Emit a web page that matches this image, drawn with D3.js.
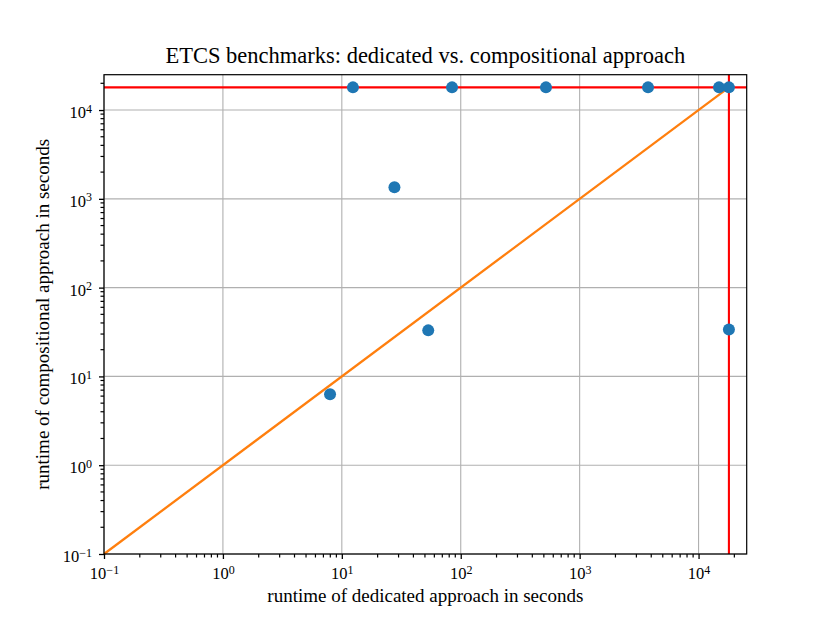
<!DOCTYPE html>
<html>
<head>
  <style>
    body { margin: 0; background: #fff; }
    svg { font-family: "Liberation Serif", "DejaVu Serif", serif; }
    .grid line { stroke: #b0b0b0; stroke-width: 1.1px; }
    .axis path { display: none; }
    .axis line { stroke: #000; stroke-width: 1.3px; }
  </style>
</head>
<body>
  <svg id="chart" width="830" height="623"></svg>
  <script src="https://d3js.org/d3.v7.min.js"></script>
  <script>
    // runtimes in seconds, one entry per benchmark
    const dedicated     = [7.96, 12.4, 27.7, 53.3, 84.5, 521, 3760, 14860, 18000, 18000];
    const compositional = [6.29, 18000, 1348, 33.0, 18000, 18000, 18000, 18000, 18000, 33.8];
    const timeout = 18000;
    const xTicks = [1e-1, 1e0, 1e1, 1e2, 1e3, 1e4];
    const yTicks = [1e-1, 1e0, 1e1, 1e2, 1e3, 1e4];
    const xDomain = [0.1, 25400];
    const yDomain = [0.1, 25000];

    const margin = { top: 74.7, right: 83.3, bottom: 69, left: 104 };
    const W = 830, H = 623;
    const width = W - margin.left - margin.right;
    const height = H - margin.top - margin.bottom;

    const svg = d3.select("#chart");
    const g = svg.append("g").attr("transform", `translate(${margin.left},${margin.top})`);

    const x = d3.scaleLog().domain(xDomain).range([0, width]);
    const y = d3.scaleLog().domain(yDomain).range([height, 0]);

    // minor ticks: 2..9 of each decade inside the domain
    function minors(scale) {
      const [a, b] = scale.domain();
      const out = [];
      for (let e = Math.floor(Math.log10(a)); e <= Math.ceil(Math.log10(b)); e++) {
        for (let m = 2; m <= 9; m++) {
          const v = m * Math.pow(10, e);
          if (v >= a && v <= b) out.push(v);
        }
      }
      return out;
    }

    // grid
    g.append("g").attr("class", "grid")
      .selectAll("line").data(xTicks).join("line")
      .attr("x1", d => x(d)).attr("x2", d => x(d))
      .attr("y1", 0).attr("y2", height);
    g.append("g").attr("class", "grid")
      .selectAll("line").data(yTicks).join("line")
      .attr("y1", d => y(d)).attr("y2", d => y(d))
      .attr("x1", 0).attr("x2", width);

    // timeout lines
    g.append("line")
      .attr("x1", 0).attr("x2", width)
      .attr("y1", y(timeout)).attr("y2", y(timeout))
      .attr("stroke", "#ff0000").attr("stroke-width", 2.1);
    g.append("line")
      .attr("x1", x(timeout)).attr("x2", x(timeout))
      .attr("y1", 0).attr("y2", height)
      .attr("stroke", "#ff0000").attr("stroke-width", 2.1);

    // diagonal
    g.append("path")
      .datum([0.1, timeout])
      .attr("fill", "none")
      .attr("stroke", "#ff7f0e")
      .attr("stroke-width", 2.3)
      .attr("d", d3.line().x(d => x(d)).y(d => y(d)));

    // points
    g.selectAll(".dot")
      .data(dedicated.map((d, i) => [d, compositional[i]]))
      .join("circle")
      .attr("class", "dot")
      .attr("cx", d => x(d[0]))
      .attr("cy", d => y(d[1]))
      .attr("r", 6)
      .attr("fill", "#1f77b4");

    // axes
    function powLabel(sel) {
      sel.selectAll(".tick text").each(function (d) {
        const t = d3.select(this);
        const e = Math.round(Math.log10(d));
        t.text(null)
          .attr("font-size", 16.5)
          .attr("font-family", "Liberation Serif, DejaVu Serif, serif")
          .attr("fill", "#000");
        t.append("tspan").text("10");
        t.append("tspan")
          .attr("dy", "-0.45em")
          .attr("font-size", 12)
          .text(e < 0 ? "\u2212" + (-e) : e);
      });
    }

    const xAxis = g.append("g").attr("class", "axis")
      .attr("transform", `translate(0,${height})`)
      .call(d3.axisBottom(x).tickValues(xTicks).tickSize(5).tickPadding(6));
    xAxis.call(powLabel);
    xAxis.selectAll(".tick text").attr("y", 25).attr("dy", 0);

    const yAxis = g.append("g").attr("class", "axis")
      .call(d3.axisLeft(y).tickValues(yTicks).tickSize(5).tickPadding(7));
    yAxis.call(powLabel);
    yAxis.selectAll(".tick text").attr("dy", "0.45em");

    // minor ticks
    const minorG = g.append("g")
      .attr("stroke", "#000")
      .attr("stroke-width", 1.2);
    minorG.selectAll(".mx").data(minors(x)).join("line")
      .attr("class", "mx")
      .attr("x1", d => x(d)).attr("x2", d => x(d))
      .attr("y1", height).attr("y2", height + 3.5);
    minorG.selectAll(".my").data(minors(y)).join("line")
      .attr("class", "my")
      .attr("y1", d => y(d)).attr("y2", d => y(d))
      .attr("x1", 0).attr("x2", -3.5);

    // frame
    g.append("rect")
      .attr("width", width).attr("height", height)
      .attr("fill", "none").attr("stroke", "#000").attr("stroke-width", 1.2);

    // titles
    svg.append("text")
      .attr("x", margin.left + width / 2).attr("y", 63)
      .attr("text-anchor", "middle")
      .attr("font-size", 22.5)
      .text("ETCS benchmarks: dedicated vs. compositional approach");

    svg.append("text")
      .attr("x", margin.left + width / 2).attr("y", 602)
      .attr("text-anchor", "middle")
      .attr("font-size", 19)
      .text("runtime of dedicated approach in seconds");

    svg.append("text")
      .attr("transform", `translate(49,${margin.top + height / 2}) rotate(-90)`)
      .attr("text-anchor", "middle")
      .attr("font-size", 19)
      .text("runtime of compositional approach in seconds");
  </script>
</body>
</html>
